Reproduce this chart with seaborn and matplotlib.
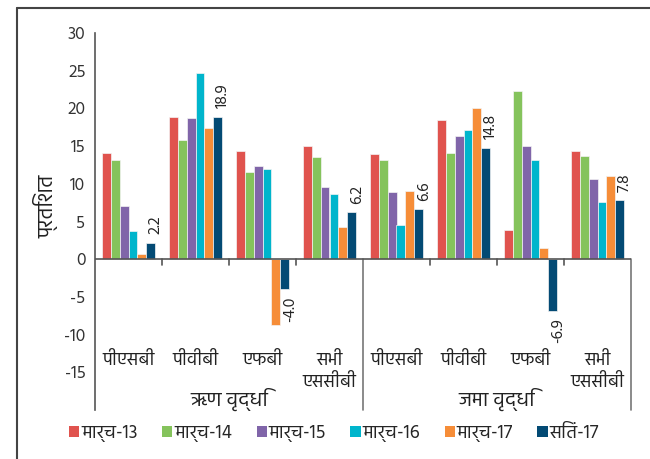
import matplotlib
matplotlib.use("Agg")
import matplotlib.pyplot as plt
from matplotlib import font_manager as fm
from matplotlib.lines import Line2D
from matplotlib.patches import Patch
import numpy as np
import pandas as pd
import seaborn as sns

# ---- data -------------------------------------------------------------
segments = ["ऋण वृद्धि", "जमा वृद्धि"]
bank_groups = ["पीएसबी", "पीवीबी", "एफबी", "सभी\nएससीबी"]
periods = ["मार्च-13", "मार्च-14", "मार्च-15", "मार्च-16", "मार्च-17", "सितं-17"]

mar13 = [14.1, 18.8, 14.4, 15.0, 13.9, 18.5, 3.9, 14.4]
mar14 = [13.1, 15.8, 11.5, 13.6, 13.1, 14.1, 22.3, 13.7]
mar15 = [7.0, 18.7, 12.3, 9.6, 8.9, 16.4, 15.0, 10.6]
mar16 = [3.8, 24.7, 11.9, 8.7, 4.6, 17.2, 13.2, 7.6]
mar17 = [0.7, 17.4, -8.7, 4.3, 9.0, 20.0, 1.5, 11.1]
sep17 = [2.2, 18.9, -4.0, 6.2, 6.6, 14.8, -6.9, 7.8]

y_ticks = [-15, -10, -5, 0, 5, 10, 15, 20, 25, 30]

colors = ["#E0534E", "#85C35C", "#8065A9", "#00B5CC", "#F68D38", "#034A74"]

# ---- long-form table ---------------------------------------------------
cats = [f"{s}|{b}" for s in segments for b in bank_groups]
series = [mar13, mar14, mar15, mar16, mar17, sep17]
rows = []
for p, vals in zip(periods, series):
    for c, v in zip(cats, vals):
        rows.append({"cat": c, "period": p, "value": v})
df = pd.DataFrame(rows)

# ---- fonts -------------------------------------------------------------
sns.set_style("white")
available = {f.name for f in fm.fontManager.ttflist}
preferred = ["Hind", "Mukta", "Ek Mukta", "Noto Sans Devanagari", "Yantramanav",
             "FreeSans", "DejaVu Sans"]
family = [f for f in preferred if f in available] or ["DejaVu Sans"]
plt.rcParams["font.family"] = family

# ---- figure ------------------------------------------------------------
W, H = 650, 459
fig = plt.figure(figsize=(W / 100, H / 100), dpi=100)
ax = fig.add_axes([95 / W, 1 - 410 / H, (631 - 95) / W, (410 - 33) / H])

sns.barplot(data=df, x="cat", y="value", hue="period", order=cats,
            hue_order=periods, palette=colors, saturation=1, width=0.8, ax=ax,
            edgecolor="#f4f4f4", linewidth=0.5, legend=False)

ax.set_ylim(-20, 30)
ax.set_xlim(-0.5, len(cats) - 0.5)
ax.set_yticks(y_ticks)
ax.set_yticklabels([str(t) for t in y_ticks], fontsize=12.5, color="#333333")
ax.tick_params(axis="y", direction="out", length=5, width=1, color="#444444", pad=2)
ax.set_xlabel("")
ax.set_ylabel("प्रतिशत", fontsize=15, color="#222222")
ax.yaxis.set_label_coords(-0.068, 0.54)

# category axis: drawn at zero, boundary ticks below it
ax.set_xticks([])
for side in ["top", "right", "bottom"]:
    ax.spines[side].set_visible(False)
ax.spines["left"].set_color("#555555")
ax.spines["left"].set_linewidth(1.2)
ax.axhline(0, color="#555555", lw=1.2, zorder=3)
for k in range(1, len(cats)):
    xb = k - 0.5
    if k == len(bank_groups):
        ax.plot([xb, xb], [0, -20], color="#777777", lw=1.2, clip_on=False)
    else:
        ax.plot([xb, xb], [0, -0.75], color="#555555", lw=1.2)
ax.plot([len(cats) - 0.5] * 2, [0, -20], color="#777777", lw=1.2, clip_on=False)

# category and segment labels
for i, c in enumerate(cats):
    b = c.split("|")[1]
    ax.text(i, -12.2, b, ha="center", va="top", fontsize=13,
            color="#222222", linespacing=1.35)
for j, s in enumerate(segments):
    ax.text(j * 4 + 1.5, -18.6, s, ha="center", va="center", fontsize=14.5,
            color="#222222")

# value labels on the last series
n = len(periods)
bw = 0.8 / n
for i, v in enumerate(sep17):
    xc = i - 0.4 + bw * (n - 0.5)
    ax.annotate(f"{v:.1f}", (xc, v), xytext=(3.5, 6 if v >= 0 else -5),
                textcoords="offset points", rotation=90, ha="center",
                va="bottom" if v >= 0 else "top", fontsize=11.5,
                color="#222222")

# legend
handles = [Patch(facecolor=c, edgecolor="none") for c in colors]
fig.legend(handles, periods, loc="center", bbox_to_anchor=(334 / W, 1 - 433 / H),
           ncol=6, frameon=False, fontsize=13.5, handlelength=0.55,
           handleheight=0.55, handletextpad=0.1, columnspacing=1.3)

# outer frame
fig.add_artist(Line2D([17 / W, 17 / W], [0, 1 - 8 / H], color="#444444", lw=1.5))
fig.add_artist(Line2D([17 / W, 1], [1 - 8 / H, 1 - 8 / H], color="#444444", lw=1.5))

fig.savefig("out.png", dpi=100)
